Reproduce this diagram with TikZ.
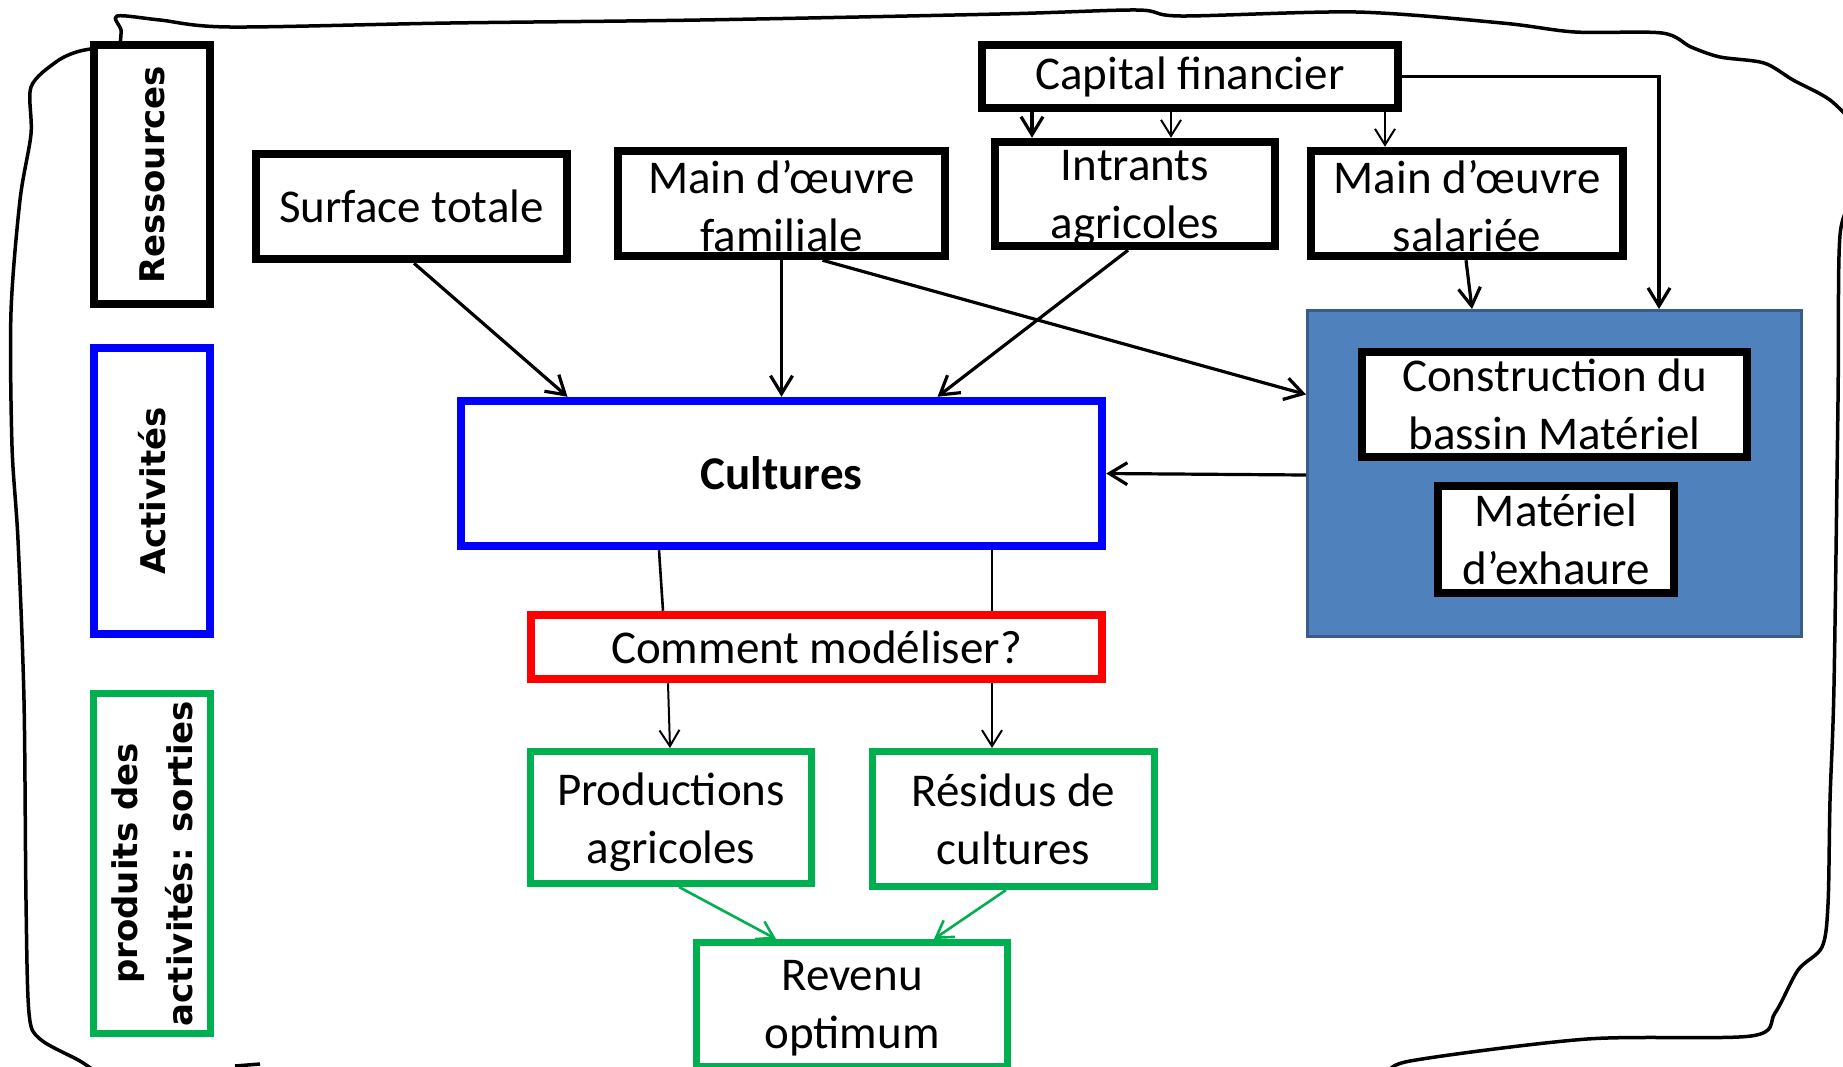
\documentclass[tikz,border=0pt]{standalone}
\usepackage{fontspec}
\setmainfont{Carlito}
\newfontfamily\labfont{DejaVu Sans}
\usetikzlibrary{arrows.meta,calc}
\definecolor{pblue}{RGB}{0,0,255}
\definecolor{pred}{RGB}{255,0,0}
\definecolor{pgreen}{RGB}{0,176,80}
\definecolor{fillblue}{RGB}{79,129,189}
\definecolor{edgeblue}{RGB}{56,93,138}
\tikzset{
  bbox/.style={draw=black, line width=8.5pt, fill=white, align=center, inner sep=0pt,
    font=\fontsize{47}{58}\selectfont},
  cbox/.style={bbox, draw=pblue},
  rbox/.style={bbox, draw=pred},
  gbox/.style={bbox, draw=pgreen, line width=7pt},
  txt/.style={align=center, inner sep=0pt, font=\fontsize{47}{58}\selectfont},
  lab/.style={font=\labfont\bfseries\fontsize{34}{55}\selectfont, rotate=90, align=center},
  arr/.style={draw=black, line width=3.2pt, -{Straight Barb[length=18pt,width=22pt,line width=3.2pt]}},
  thinarr/.style={draw=black, line width=2pt, -{Straight Barb[length=16pt,width=20pt,line width=2pt]}},
  garr/.style={draw=pgreen, line width=2.6pt, -{Straight Barb[length=16pt,width=20pt,line width=2.6pt]}},
  plain/.style={draw=black, line width=2.6pt}
}
\begin{document}
\begin{tikzpicture}[x=1pt,y=-1pt]
\useasboundingbox (0,0) rectangle (1843,1066);
\clip (0,0) rectangle (1843,1066);
% hand-drawn outer border
\draw[line width=3.5pt, line join=round, line cap=round]
  plot[smooth, tension=0.5] coordinates {
  (120,45) (80,51) (56,62) (31,87) (31,134) (20,200) (11,312) (12,446) (18,540)
  (24,700) (26,900) (29,1013) (40,1039) (80,1061) (100,1075)};
\draw[line width=3.5pt, line join=round, line cap=round]
  plot[smooth, tension=0.5] coordinates {
  (120,45) (121,30) (117,16) (160,20) (230,27) (450,23) (700,20) (1000,14) (1137,10) (1181,16)
  (1356,12) (1502,23) (1575,32) (1662,33) (1691,47) (1720,57) (1764,63) (1793,80) (1830,100) (1860,130)};
\draw[line width=3.5pt, line join=round, line cap=round]
  plot[smooth, tension=0.5] coordinates {
  (1855,200) (1840,235) (1838,400) (1834,685) (1830,800) (1828,904) (1822,947) (1798,970)
  (1775,1013) (1751,1036) (1587,1039) (1410,1061) (1390,1075)};
\draw[line width=3.5pt] (235,1066) -- (260,1064);

% left category labels
\node[bbox, minimum width=116, minimum height=259] (res) at (152,174.5) {};
\node[lab] (reslab) at (152,174.5) {Ressources};
\node[cbox, minimum width=116, minimum height=286] (act) at (152,491) {};
\node[lab] (actlab) at (152,491) {Activités};
\node[gbox, minimum width=117, minimum height=340] (prod) at (152,863.5) {};
\node[lab] (prodlab) at (152,863.5) {produits des\\activités: sorties};

% resources
\node[bbox, minimum width=311, minimum height=105] (surf) at (411.5,206.5) {Surface totale};
\node[bbox, minimum width=327, minimum height=105] (mof) at (781.5,203.5) {};
\node[txt] (moft) at (781.5,206.5) {Main d’œuvre\\familiale};
\node[bbox, minimum width=416, minimum height=63] (cap) at (1190,76.5) {Capital financier};
\node[bbox, minimum width=280, minimum height=104] (intr) at (1135,194) {};
\node[txt] (intrt) at (1135,198) {Intrants\\agricoles};
\node[bbox, minimum width=312, minimum height=105] (mos) at (1467,203.5) {};
\node[txt] (most) at (1467,206) {Main d’œuvre\\salariée};

% blue filled group
\node[draw=edgeblue, fill=fillblue, line width=3pt, minimum width=494, minimum height=326, inner sep=0pt] (blue) at (1554.5,473.5) {};
\node[bbox, minimum width=385, minimum height=105] (constr) at (1554.5,404.5) {Construction du\\bassin Matériel};
\node[bbox, minimum width=236, minimum height=107] (mat) at (1556,539.5) {Matériel\\d’exhaure};

% activities and outputs
\node[cbox, minimum width=641, minimum height=145] (cult) at (781.5,473.5) {\bfseries Cultures};
\node[rbox, minimum width=571, minimum height=64] (comm) at (816.5,647) {Comment modéliser?};
\node[gbox, minimum width=281, minimum height=132] (prodag) at (671,817.5) {};
\node[txt] (prodagt) at (671,822) {Productions\\agricoles};
\node[gbox, minimum width=282, minimum height=135] (resid) at (1013.5,819) {Résidus de\\cultures};
\node[gbox, minimum width=311, minimum height=124] (rev) at (852,1004.5) {};
\node[txt] (revt) at (852,1008) {Revenu\\optimum};

% connectors
\draw[arr] ([xshift=2.5pt]surf.south) -- ([xshift=-214pt]cult.north);
\draw[arr] (mof.south) -- (cult.north);
\draw[arr] ([xshift=41pt]mof.south) -- ([yshift=79pt]blue.west);
\draw[arr] ([xshift=-7pt]intr.south) -- ([xshift=156pt]cult.north);
\draw[arr, line width=3.6pt] ([xshift=-158pt]cap.south) -- ([xshift=-103pt]intr.north);
\draw[thinarr] ([xshift=-19pt]cap.south) -- ([xshift=36pt]intr.north);
\draw[thinarr] ([xshift=195pt]cap.south) -- ([xshift=-82pt]mos.north);
\draw[arr] (cap.east) -| ([xshift=104.5pt]blue.north);
\draw[arr] ([xshift=-1pt]mos.south) -- ([xshift=-82.5pt]blue.north);
\draw[arr] ([yshift=-1.5pt]blue.west) -- (cult.east);
\draw[plain] ([xshift=-122.5pt]cult.south) -- ([xshift=-153.5pt]comm.north);
\draw[plain] ([xshift=210.5pt]cult.south) -- ([xshift=175.5pt]comm.north);
\draw[thinarr] ([xshift=-148.5pt]comm.south) -- ([xshift=-1pt]prodag.north);
\draw[thinarr] ([xshift=175.5pt]comm.south) -- ([xshift=-21.5pt]resid.north);
\draw[garr] ([xshift=8pt]prodag.south) -- ([xshift=-76pt]rev.north);
\draw[garr] ([xshift=-7.5pt]resid.south) -- ([xshift=82pt]rev.north);
\end{tikzpicture}
\end{document}
